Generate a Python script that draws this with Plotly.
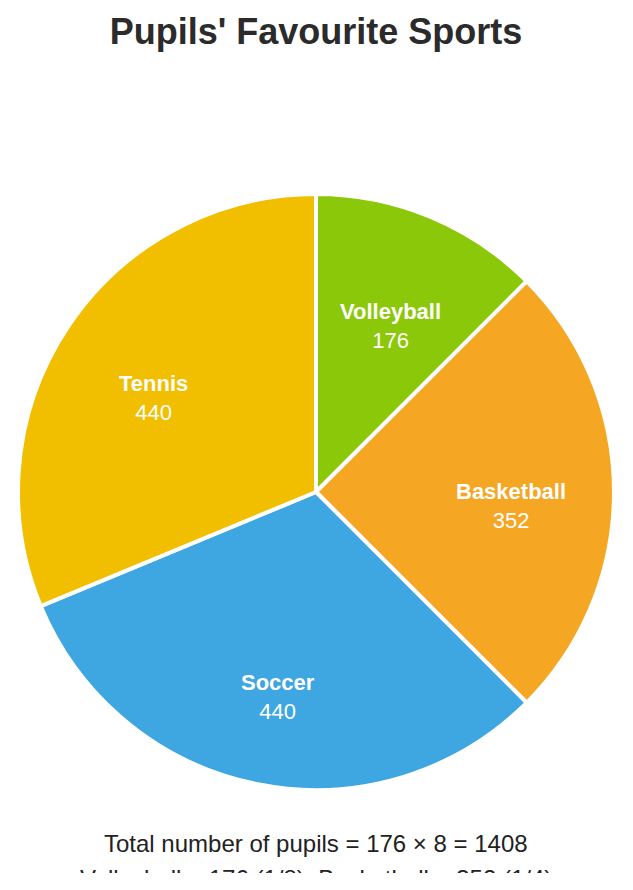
import math
import plotly.graph_objects as go

sports = ["Volleyball", "Basketball", "Soccer", "Tennis"]
pupils = [176, 352, 440, 440]
colors = ["#8cc80a", "#f5a623", "#3ea6e0", "#f2be00"]
title_text = "Pupils' Favourite Sports"
note_lines = [
    "Total number of pupils = 176 × 8 = 1408",
    "Volleyball = 176 (1/8), Basketball = 352 (1/4)",
]

W, H = 633, 865
mt, mb, ml, mr = 186, 83, 10, 27
ph = H - mt - mb
pw = W - ml - mr
FONT = "Liberation Sans, Arial, sans-serif"

fig = go.Figure(go.Pie(
    labels=sports,
    values=pupils,
    sort=False,
    direction="clockwise",
    rotation=0,
    marker=dict(colors=colors, line=dict(color="white", width=4)),
    textinfo="none",
    hoverinfo="label+value+percent",
    showlegend=False,
))

annotations = []
# slice labels placed at the mid-angle of each slice
total = sum(pupils)
label_r = 195.0   # px from centre
label_dy = 14.0   # px downward shift
cum = 0.0
for name, v in zip(sports, pupils):
    mid = (cum + v / 2) / total * 2 * math.pi
    cum += v
    x = 0.5 + label_r * math.sin(mid) / pw
    y = 0.5 + (label_r * math.cos(mid) - label_dy) / ph
    annotations.append(dict(
        text="<b>" + name + "</b><br>" + str(v), xref="paper", yref="paper",
        x=x, y=y, xanchor="center", yanchor="middle", showarrow=False,
        font=dict(family=FONT, size=22, color="white"),
    ))

for i, line in enumerate(note_lines):
    ypx = 835 + i * 35
    annotations.append(dict(
        text=line, xref="paper", yref="paper", x=0.5,
        y=(H - mb - ypx) / ph, xanchor="center", yanchor="middle",
        showarrow=False,
        font=dict(family=FONT, size=24, color="#222222"),
    ))

fig.update_layout(
    width=W, height=H,
    margin=dict(t=mt, b=mb, l=ml, r=mr),
    paper_bgcolor="white", plot_bgcolor="white",
    title=dict(text="<b>" + title_text + "</b>", x=(ml + pw / 2) / W, xanchor="center",
               y=1 - 23 / H, yref="container", yanchor="middle",
               font=dict(family=FONT, size=36, color="#2b2b2b")),
    annotations=annotations,
)

fig.write_html("out.html")
